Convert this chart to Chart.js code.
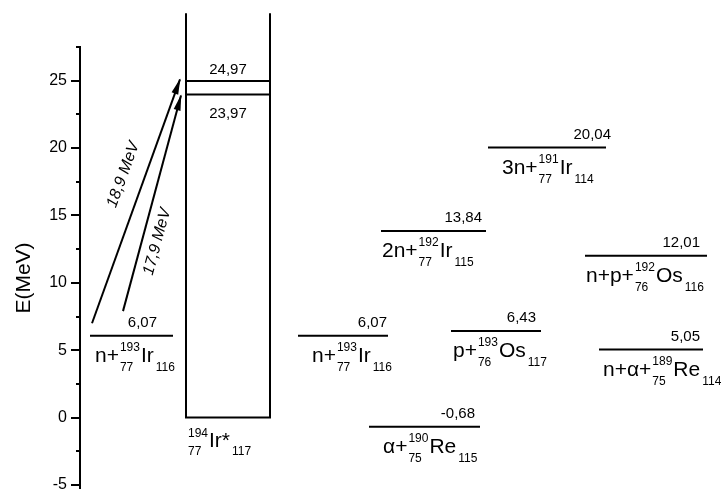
<!DOCTYPE html>
<html>
<head>
<meta charset="utf-8">
<script src="https://cdn.jsdelivr.net/npm/chart.js@4"></script>
<style>
  html, body { margin: 0; padding: 0; background: #fff; }
  canvas { display: block; }
</style>
</head>
<body>
<canvas id="levels" width="721" height="489"></canvas>
<script>
// decay channels of the compound nucleus (energies in MeV)
const channelPrefix = ['n+', 'n+', 'α+', '2n+', 'p+', '3n+', 'n+p+', 'n+α+'];
const channelMass   = ['193', '193', '190', '192', '193', '191', '192', '189'];
const channelZ      = ['77', '77', '75', '77', '76', '77', '76', '75'];
const channelSymbol = ['Ir', 'Ir', 'Re', 'Ir', 'Os', 'Ir', 'Os', 'Re'];
const channelN      = ['116', '116', '115', '115', '117', '114', '116', '114'];
const channelEnergy = [6.07, 6.07, -0.68, 13.84, 6.43, 20.04, 12.01, 5.05];

// compound nucleus 194Ir* and its excited levels
const compoundMass = '194', compoundZ = '77', compoundSymbol = 'Ir*', compoundN = '117';
const compoundLevels = [24.97, 23.97];

// excitation arrows
const transitionLabels = ['18,9 MeV', '17,9 MeV'];
const transitionFrom = [7.0, 7.9];
const transitionTo = [25.1, 23.9];

// y axis
const yTickValues = [-5, 0, 5, 10, 15, 20, 25];
const yMinorTickValues = [-5, -2.5, 0, 2.5, 5, 7.5, 10, 12.5, 15, 17.5, 20, 22.5, 25, 27.5];

// horizontal layout (x axis is only a drawing axis)
const channelX0 = [90, 298, 369, 381, 451, 488, 585, 599];
const channelX1 = [173, 388, 480, 486, 541, 606, 707, 703];
const valueRight = [157, 387, 475, 482, 536, 611, 700, 700];
const nameLeft = [95, 312, 383, 382, 453, 502, 586, 603];
const boxX0 = 186, boxX1 = 270, boxTop = 30;
const arrowX0 = [92, 123], arrowX1 = [180, 181];
const arrowLabelPos = [{ t: 0.58, off: -21 }, { t: 0.34, off: 15 }];

const FONT = '"Liberation Sans", Arial, sans-serif';
const fmt = (v, d) => v.toFixed(d).replace('.', ',');

const datasets = [];
channelEnergy.forEach((e, i) => {
    datasets.push({
        data: [{ x: channelX0[i], y: e }, { x: channelX1[i], y: e }],
        borderColor: '#000', borderWidth: 2, pointRadius: 0
    });
});
datasets.push({
    data: [{ x: boxX0, y: boxTop }, { x: boxX0, y: 0 }, { x: boxX1, y: 0 }, { x: boxX1, y: boxTop }],
    borderColor: '#000', borderWidth: 2, pointRadius: 0, clip: false
});
compoundLevels.forEach(e => {
    datasets.push({
        data: [{ x: boxX0, y: e }, { x: boxX1, y: e }],
        borderColor: '#000', borderWidth: 2, pointRadius: 0
    });
});
transitionLabels.forEach((l, i) => {
    datasets.push({
        data: [{ x: arrowX0[i], y: transitionFrom[i] }, { x: arrowX1[i], y: transitionTo[i] }],
        borderColor: '#000', borderWidth: 2, pointRadius: 0, clip: false
    });
});

function drawNuclide(ctx, x, base, prefix, A, Z, sym, N, supOff, subOff) {
    ctx.textAlign = 'left';
    ctx.textBaseline = 'alphabetic';
    ctx.font = '21px ' + FONT;
    if (prefix) {
        ctx.fillText(prefix, x, base);
        x += ctx.measureText(prefix).width + 1;
    }
    ctx.font = '12px ' + FONT;
    ctx.fillText(A, x, base - supOff);
    ctx.fillText(Z, x, base + subOff);
    x += Math.max(ctx.measureText(A).width, ctx.measureText(Z).width) + 1;
    ctx.font = '21px ' + FONT;
    ctx.fillText(sym, x, base);
    x += ctx.measureText(sym).width + 2;
    ctx.font = '12px ' + FONT;
    ctx.fillText(N, x, base + subOff);
}

const labelsPlugin = {
    id: 'labels',
    afterDatasetsDraw(chart) {
        const ctx = chart.ctx;
        const xs = chart.scales.x, ys = chart.scales.y;
        ctx.save();
        ctx.fillStyle = '#000';

        // channel energies and names
        channelEnergy.forEach((e, i) => {
            const py = ys.getPixelForValue(e);
            ctx.font = '15px ' + FONT;
            ctx.textAlign = 'right';
            ctx.textBaseline = 'alphabetic';
            ctx.fillText(fmt(e, 2), xs.getPixelForValue(valueRight[i]), py - 9);
            drawNuclide(ctx, xs.getPixelForValue(nameLeft[i]), py + 26,
                channelPrefix[i], channelMass[i], channelZ[i], channelSymbol[i], channelN[i], 11, 9);
        });

        // compound levels
        const cx = xs.getPixelForValue((boxX0 + boxX1) / 2);
        ctx.font = '15px ' + FONT;
        ctx.textAlign = 'center';
        ctx.fillText(fmt(compoundLevels[0], 2), cx, ys.getPixelForValue(compoundLevels[0]) - 7);
        ctx.fillText(fmt(compoundLevels[1], 2), cx, ys.getPixelForValue(compoundLevels[1]) + 23);
        drawNuclide(ctx, xs.getPixelForValue(boxX0) + 2, ys.getPixelForValue(0) + 29,
            '', compoundMass, compoundZ, compoundSymbol, compoundN, 10, 8);

        // arrow heads and labels
        transitionLabels.forEach((label, i) => {
            const x0 = xs.getPixelForValue(arrowX0[i]), y0 = ys.getPixelForValue(transitionFrom[i]);
            const x1 = xs.getPixelForValue(arrowX1[i]), y1 = ys.getPixelForValue(transitionTo[i]);
            const ang = Math.atan2(y1 - y0, x1 - x0);
            const L = 15, W = 3.5;
            const c = Math.cos(ang), s = Math.sin(ang);
            ctx.beginPath();
            ctx.moveTo(x1 + c * 1, y1 + s * 1);
            ctx.lineTo(x1 - L * c + W * s, y1 - L * s - W * c);
            ctx.lineTo(x1 - L * c - W * s, y1 - L * s + W * c);
            ctx.closePath();
            ctx.fill();

            // label sits beside the shaft, turned along it
            const p = arrowLabelPos[i];
            const lx = x0 + (x1 - x0) * p.t - s * p.off;
            const ly = y0 + (y1 - y0) * p.t + c * p.off;
            ctx.save();
            ctx.translate(lx, ly);
            ctx.rotate(ang);
            ctx.font = 'italic 16px ' + FONT;
            ctx.textAlign = 'center';
            ctx.textBaseline = 'middle';
            ctx.fillText(label, 0, 0);
            ctx.restore();
        });

        // axis title
        ctx.save();
        ctx.translate(24, 278);
        ctx.rotate(-Math.PI / 2);
        ctx.font = '21px ' + FONT;
        ctx.textAlign = 'center';
        ctx.textBaseline = 'middle';
        ctx.fillText('E(MeV)', 0, 0);
        ctx.restore();

        ctx.restore();
    }
};

const noPad = s => { s.paddingTop = 0; s.paddingBottom = 0; };

new Chart(document.getElementById('levels').getContext('2d'), {
    type: 'line',
    data: { datasets: datasets },
    options: {
        responsive: false,
        animation: false,
        layout: { padding: { top: 47, right: 0, bottom: 0, left: 0 } },
        plugins: { legend: { display: false }, tooltip: { enabled: false } },
        scales: {
            x: { type: 'linear', display: false, min: 80, max: 721 },
            y: {
                type: 'linear', position: 'left', weight: 1,
                min: -5.3, max: 27.5,
                afterBuildTicks: s => { s.ticks = yTickValues.map(v => ({ value: v })); },
                afterFit: s => { s.width = 80; noPad(s); },
                border: { display: true, color: '#000', width: 2 },
                grid: { drawOnChartArea: false, color: '#000', lineWidth: 2, tickLength: 9 },
                ticks: { color: '#000', padding: 4, font: { family: FONT, size: 16 } }
            },
            yMinor: {
                type: 'linear', position: 'left', weight: 0,
                min: -5.3, max: 27.5,
                afterBuildTicks: s => { s.ticks = yMinorTickValues.map(v => ({ value: v })); },
                afterFit: s => { s.width = 0; noPad(s); },
                border: { display: false },
                grid: { drawOnChartArea: false, color: '#000', lineWidth: 2, tickLength: 4 },
                ticks: { display: false }
            }
        }
    },
    plugins: [labelsPlugin]
});
</script>
</body>
</html>
